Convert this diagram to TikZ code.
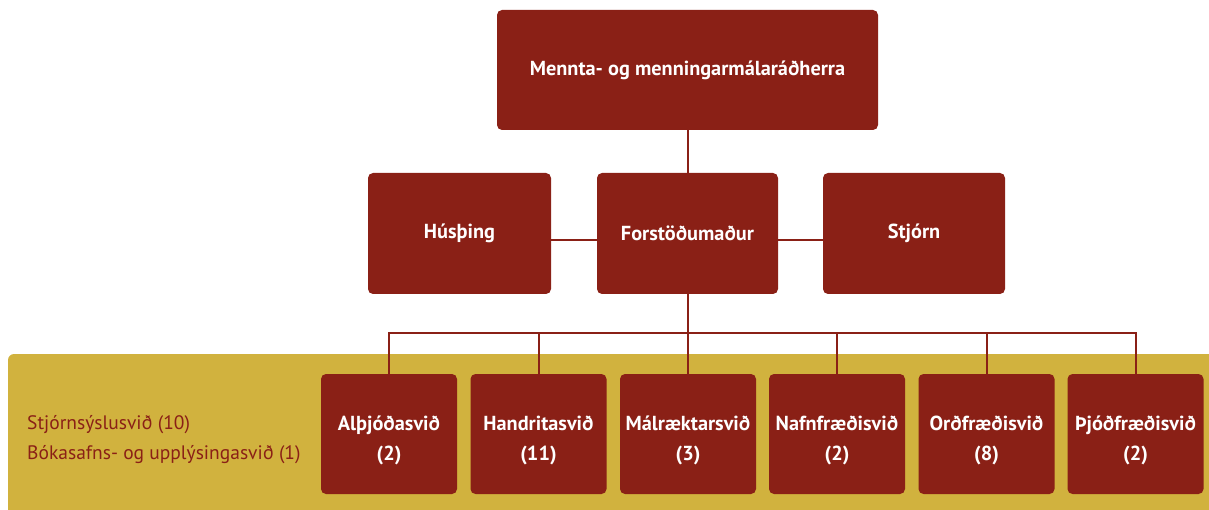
\documentclass[tikz,border=0pt]{standalone}
\usepackage{fontspec}
\setmainfont{PT Sans}
\definecolor{boxred}{RGB}{138,32,22}
\definecolor{bandgold}{RGB}{209,178,62}
\begin{document}
\begin{tikzpicture}[x=1pt,y=-1pt,
  orgbox/.style={fill=boxred, rounded corners=5pt, text=white, inner sep=0pt,
    align=center, font=\fontsize{20.3}{30}\selectfont\bfseries},
  link/.style={draw=boxred, line width=2pt}]
\useasboundingbox (0,0) rectangle (1209,510);
\clip (0,0) rectangle (1209,510);
\fill[bandgold, rounded corners=6pt] (8,354) rectangle (1240,540);
% top
\node[orgbox, minimum width=381pt, minimum height=120pt] (min) at (687.5,70) {Mennta- og menningarmálaráðherra};
% middle row
\node[orgbox, minimum width=183pt, minimum height=121pt] (hus) at (459.5,233.5) {Húsþing};
\node[orgbox, minimum width=181pt, minimum height=121pt] (for) at (687.5,233.5) {Forstöðumaður};
\node[orgbox, minimum width=182pt, minimum height=121pt] (stj) at (914,233.5) {Stjórn};
% bottom row
\foreach \n/\x/\t in {b1/389/{Alþjóðasvið\\(2)}, b2/538.5/{Handritasvið\\(11)}, b3/688/{Málræktarsvið\\(3)},
  b4/837/{Nafnfræðisvið\\(2)}, b5/986.5/{Orðfræðisvið\\(8)}, b6/1135.5/{Þjóðfræðisvið\\(2)}}
  \node[orgbox, minimum width=136pt, minimum height=120pt] (\n) at (\x,434) {};
\foreach \n/\t in {b1/{Alþjóðasvið\\(2)}, b2/{Handritasvið\\(11)}, b3/{Málræktarsvið\\(3)},
  b4/{Nafnfræðisvið\\(2)}, b5/{Orðfræðisvið\\(8)}, b6/{Þjóðfræðisvið\\(2)}}
  \node[text=white, align=center, inner sep=0pt, font=\fontsize{20.3}{30}\selectfont\bfseries]
    (\n t) at ([yshift=-6pt]\n.center) {\t};
% left text
\node[anchor=west, align=left, text=boxred, inner sep=0pt,
  font=\fontsize{19.5}{30}\selectfont] (side) at (27,440) {Stjórnsýslusvið (10)\\Bókasafns- og upplýsingasvið (1)};
% connectors
\coordinate (bus) at (687.5,333);
\draw[link] (min.south) -- (for.north);
\draw[link] ([yshift=-6.5pt]hus.east) -- ([yshift=-6.5pt]for.west);
\draw[link] ([yshift=-6.5pt]for.east) -- ([yshift=-6.5pt]stj.west);
\draw[link] (for.south) -- (bus);
\foreach \n in {b1,b2,b3,b4,b5,b6}
  \draw[link] (bus) -| (\n.north);
\end{tikzpicture}
\end{document}
